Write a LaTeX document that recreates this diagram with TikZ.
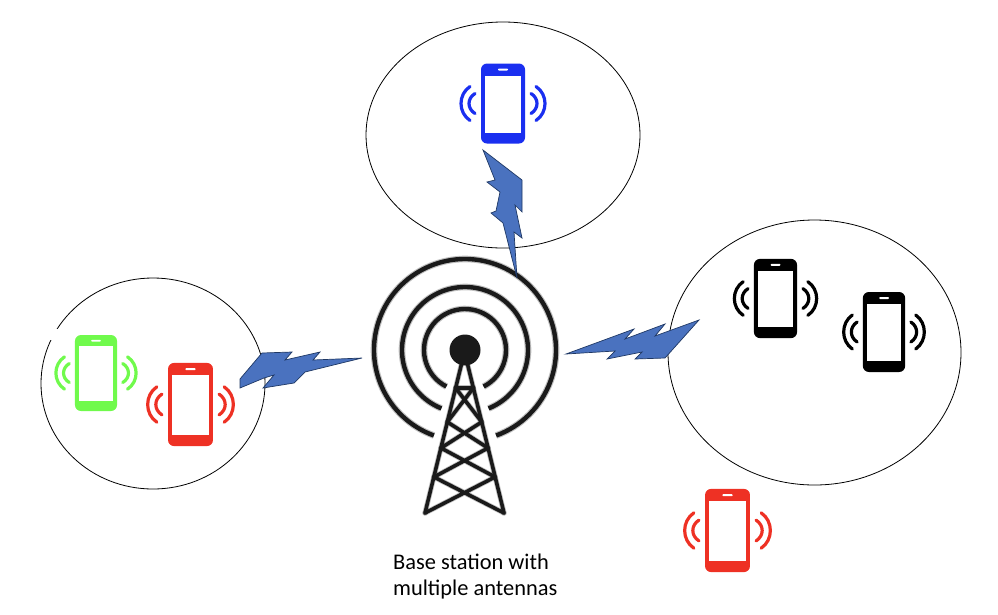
\documentclass[tikz,border=0pt]{standalone}
\usepackage{fontspec}
\setmainfont{Carlito}
\usetikzlibrary{shapes.geometric}
\definecolor{boltblue}{HTML}{4A72BF}
\definecolor{boltedge}{HTML}{1F3864}
\definecolor{towerblack}{HTML}{1A1A1A}
\definecolor{phoneblue}{HTML}{1A2FF0}
\definecolor{phonegreen}{HTML}{70FA4C}
\definecolor{phonered}{HTML}{EE3124}
\tikzset{
  x=1pt,y=-1pt,
  cell/.style={draw=black,line width=0.8pt,ellipse,inner sep=0pt,fill=none},
  bolt/.style={fill=boltblue,draw=boltedge,line width=0.7pt,line join=miter},
  ring/.style={draw=towerblack},
  halo/.style={draw=towerblack,opacity=0.28},
  strut/.style={draw=towerblack,line width=3.6pt,line cap=round,line join=round},
  struthalo/.style={draw=towerblack,opacity=0.28,line width=5.2pt,line cap=round,line join=round},
  pics/phone/.style={code={
    \fill[#1,rounded corners=6pt] (-22,-40) rectangle (22,40);
    \fill[white] (-18,-28) rectangle (18,29);
    \fill[white,rounded corners=0.8pt] (-5,-35) rectangle (5,-33);
    \draw[#1,line width=3.2pt,line cap=round]
      (-28,-10) .. controls (-36,-5) and (-36,5) .. (-28,10)
      (-33,-17) .. controls (-45,-9) and (-45,9) .. (-33,17)
      (28,-10) .. controls (36,-5) and (36,5) .. (28,10)
      (33,-17) .. controls (45,-9) and (45,9) .. (33,17);
  }}
}
\begin{document}
\begin{tikzpicture}
\useasboundingbox (0,0) rectangle (998,614);
% cells
\node[cell,minimum width=274pt,minimum height=226pt] (topcell) at (503,135) {};
\node[cell,minimum width=224pt,minimum height=211pt] (leftcell) at (153,383.5) {};
\node[cell,minimum width=293pt,minimum height=265pt] (rightcell) at (814.5,352.5) {};
\fill[white] (48,329) rectangle (58,340);
% phones
\pic (ph1) at (503,103.5) {phone=phoneblue};
\pic[xscale=0.955,yscale=0.95] (ph2) at (96,373) {phone=phonegreen};
\pic[xscale=1.02,yscale=1.04] (ph3) at (190.5,404.5) {phone=phonered};
\pic[xscale=0.98,yscale=0.99] (ph4) at (775.5,298.5) {phone=black};
\pic[xscale=0.96,yscale=1.0] (ph5) at (884,332) {phone=black};
\pic[xscale=1.02,yscale=1.04] (ph6) at (727.5,530.5) {phone=phonered};
% tower
\coordinate (hub) at (465,350);
\foreach \st/\lw in {halo/6.6pt,ring/4.4pt}{
  \draw[\st,line width=\lw] (hub) ++(110:91) arc[start angle=250,end angle=-70,radius=91pt];
  \draw[\st,line width=\lw] (hub) ++(112:63) arc[start angle=248,end angle=-68,radius=63pt];
  \draw[\st,line width=\lw] (hub) ++(117:41) arc[start angle=243,end angle=-63,radius=41pt];
}
\fill[towerblack] (hub) circle[radius=15.5pt];
\foreach \st in {struthalo,strut}{
  \draw[\st] (425,513) -- (462,362) (504,513) -- (467,362);
  \draw[\st] (455.6,388) -- (473.4,388);
  \draw[\st] (455.6,388) -- (481.7,422) (473.4,388) -- (447.3,422);
  \draw[\st] (447.3,422) -- (488,448) (481.7,422) -- (441,448);
  \draw[\st] (441,448) -- (495,477) (488,448) -- (434,477);
  \draw[\st] (434,477) -- (504,513) (495,477) -- (425,513);
}
% bolts
\path[bolt] (483,150) -- (522,180) -- (522,212) -- (515,205) -- (522,238) -- (514,232) -- (517,278)
  -- (503,223) -- (491,213) -- (496,211) -- (500,192) -- (487,182) -- (495,180) -- cycle;
\path[bolt] (240,379) -- (262,353) -- (292,352) -- (285,360) -- (320,352) -- (313,360) -- (362,358)
  -- (305,372) -- (294,383) -- (263,388) -- (274,375) -- (264,378) -- (240,388) -- cycle;
\path[bolt] (566,354) -- (634,329) -- (625,339) -- (665,324) -- (655,336) -- (699,320) -- (665,358)
  -- (635,359) -- (642,352) -- (607,359) -- (615,351) -- cycle;
% label
\node[anchor=base west,inner sep=0pt,font=\fontsize{22.4}{26}\selectfont,align=left] (bslabel) at (393,595)
  {Base station with\\multiple antennas};
\end{tikzpicture}
\end{document}
